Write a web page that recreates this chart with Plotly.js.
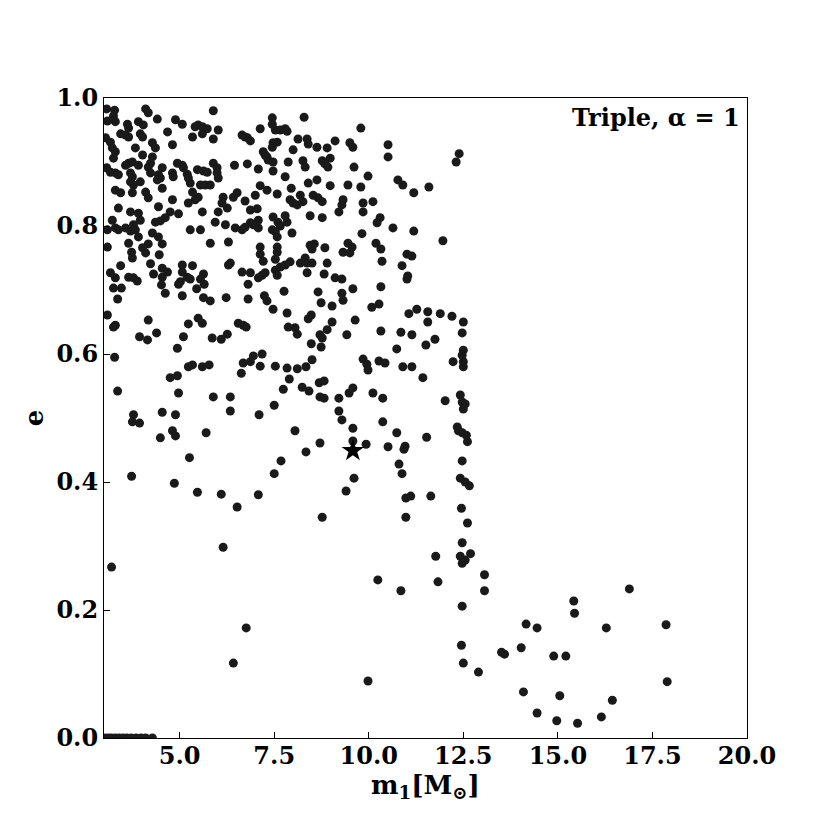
<!DOCTYPE html>
<html>
<head>
<meta charset="utf-8">
<script src="https://cdn.plot.ly/plotly-3.0.1.min.js"></script>
<style>html,body{margin:0;padding:0;background:#fff;}</style>
</head>
<body>
<div id="chart" style="width:830px;height:830px;"></div>
<script>
// primary mass m1 [Msun]
const m1 = [
3.07,3.28,3.25,3.09,3.30,4.10,4.17,4.41,5.89,4.89,5.07,3.91,4.04,3.62,3.65,5.49,5.41,5.60,5.73,6.02,
4.68,3.44,3.57,3.65,3.96,4.02,5.34,5.60,5.89,3.04,3.17,4.28,4.36,4.81,3.22,3.30,3.25,3.83,4.02,4.28,
3.65,3.75,3.57,3.91,4.23,4.17,4.54,4.94,5.07,5.10,5.20,5.47,5.63,5.73,5.89,5.99,5.99,3.07,3.17,3.30,
3.38,3.70,3.75,4.23,4.44,4.49,4.41,4.81,4.83,5.23,5.28,5.55,5.68,5.81,6.02,3.70,3.78,3.96,4.54,3.30,
3.44,3.75,4.10,4.17,5.34,5.49,5.41,6.15,6.12,4.81,3.38,3.70,4.44,4.75,4.97,5.23,5.60,6.02,6.26,3.91,
3.96,4.36,4.49,4.62,3.22,5.94,3.09,3.30,3.38,3.57,3.70,3.78,3.83,4.28,5.28,5.55,6.21,
3.91,4.44,3.09,3.65,4.17,4.54,5.81,6.29,3.73,3.75,4.02,4.10,4.46,3.44,4.23,3.17,3.30,3.65,3.78,3.88,
4.31,4.54,4.68,4.54,5.07,5.34,5.07,5.20,5.28,5.02,4.97,5.63,5.55,5.65,6.29,3.25,3.46,3.36,4.52,4.62,
5.07,5.45,5.63,5.81,6.23,3.09,3.30,3.25,4.17,5.23,5.49,5.60,3.94,4.15,4.39,5.10,4.94,5.86,6.10,6.26,
3.28,5.23,5.34,5.60,5.78,
4.75,4.94,3.36,4.97,5.89,6.34,6.34,3.78,3.75,3.94,4.54,4.89,4.81,4.89,4.49,5.70,5.26,3.73,4.86,5.47,6.10,
6.52,8.77,10.98,12.45,12.61,6.15,3.20,12.47,11.77,12.42,12.69,12.47,12.55,10.24,11.83,10.85,12.47,6.76,12.45,6.42,
12.50,12.90,9.98,
3.03,3.12,3.20,3.30,3.40,3.50,3.60,3.72,3.85,3.98,4.10,4.28,
13.06,13.06,16.89,15.42,15.44,14.16,14.45,16.28,17.86,13.51,13.59,14.03,14.89,15.21,17.89,14.09,15.05,16.44,14.45,14.97,
15.52,16.15,
8.29,7.45,7.45,7.53,7.66,7.79,7.84,7.13,6.65,6.73,6.79,6.87,7.58,7.47,7.45,8.13,8.37,8.40,8.63,8.90,
8.98,9.11,9.50,9.58,8.00,7.21,7.26,7.31,7.34,7.47,6.45,6.79,7.08,7.47,7.87,8.26,8.32,8.77,8.84,8.92,
9.61,7.79,8.63,8.40,8.98,9.45,7.13,7.31,7.95,7.58,6.52,6.42,7.00,6.73,6.87,7.05,7.92,8.00,8.11,8.19,
8.26,8.53,8.66,8.77,9.32,9.29,9.21,8.45,8.77,7.47,7.79,7.60,7.66,7.84,7.08,6.47,6.65,6.73,6.87,6.95,
7.08,7.45,7.53,7.97,
9.79,10.51,10.51,12.39,12.31,9.98,9.79,10.77,10.90,11.19,11.59,9.85,10.11,9.85,10.30,10.22,10.64,11.19,9.82,
7.58,7.13,7.13,7.21,7.58,7.58,7.53,8.45,8.56,8.50,8.84,9.45,9.56,9.32,9.50,6.34,6.65,6.87,7.08,7.18,
7.26,7.53,7.66,7.79,7.92,7.58,8.19,8.32,8.37,8.50,8.37,8.90,8.82,9.11,9.29,9.58,6.81,7.76,8.66,8.74,
9.29,9.32,6.81,7.24,7.31,7.47,7.84,9.03,8.48,8.40,9.03,8.90,8.71,8.77,9.64,6.55,6.68,6.76,7.87,8.05,
8.11,9.42,8.48,8.74,8.50,6.68,6.87,6.95,7.18,7.13,7.53,7.84,8.11,8.34,
6.63,7.90,7.74,8.24,8.42,8.69,8.82,8.71,8.82,9.21,9.48,9.58,7.10,7.50,9.21,9.29,9.58,8.05,9.58,8.71,
8.34,7.68,7.50,9.61,7.08,9.40,
11.96,10.19,10.32,10.35,11.01,11.14,10.88,11.03,11.01,10.32,10.08,10.27,11.06,11.27,11.56,11.56,11.89,12.20,12.50,12.47,
10.32,10.85,11.14,11.75,11.51,10.74,12.50,12.47,9.85,9.95,9.98,10.27,10.43,10.90,11.14,12.23,12.50,12.50,
11.43,10.11,10.37,12.02,12.42,12.47,12.55,12.50,10.37,10.74,11.53,12.34,12.37,12.47,12.58,12.61,9.93,10.51,10.96,10.93,
10.80,10.88,12.47,12.42,12.55,12.66,10.98,11.11,11.64
];
// eccentricity e
const ecc = [
0.983,0.981,0.972,0.964,0.963,0.983,0.977,0.967,0.980,0.966,0.959,0.963,0.958,0.959,0.953,0.958,0.955,0.955,0.952,0.950,
0.947,0.944,0.942,0.939,0.944,0.939,0.939,0.944,0.936,0.938,0.931,0.930,0.922,0.927,0.922,0.916,0.906,0.922,0.911,0.908,
0.898,0.900,0.895,0.895,0.898,0.892,0.891,0.898,0.895,0.891,0.881,0.888,0.886,0.884,0.898,0.891,0.883,0.891,0.884,0.883,
0.880,0.883,0.877,0.883,0.880,0.875,0.872,0.883,0.877,0.875,0.867,0.864,0.864,0.864,0.875,0.869,0.864,0.869,0.859,0.856,
0.852,0.852,0.853,0.844,0.853,0.845,0.841,0.845,0.836,0.841,0.828,0.822,0.830,0.822,0.819,0.836,0.822,0.822,0.828,0.820,
0.809,0.806,0.808,0.813,0.809,0.806,0.794,0.797,0.794,0.797,0.792,0.802,0.794,0.789,0.794,0.794,0.802,
0.783,0.783,0.767,0.773,0.772,0.772,0.773,0.775,0.759,0.750,0.766,0.758,0.755,0.738,0.741,0.727,0.719,0.720,0.719,0.714,
0.725,0.734,0.728,0.720,0.739,0.738,0.728,0.720,0.717,0.713,0.709,0.725,0.717,0.709,0.739,0.703,0.703,0.686,0.708,0.695,
0.691,0.702,0.688,0.683,0.688,0.661,0.645,0.642,0.653,0.647,0.656,0.648,0.627,0.622,0.633,0.627,0.609,0.625,0.623,0.631,
0.595,0.580,0.583,0.580,0.583,
0.563,0.566,0.542,0.539,0.533,0.533,0.511,0.505,0.494,0.492,0.509,0.505,0.480,0.472,0.469,0.477,0.438,0.409,0.398,0.384,0.381,
0.361,0.345,0.345,0.359,0.336,0.298,0.267,0.305,0.284,0.284,0.288,0.273,0.278,0.247,0.244,0.230,0.206,0.172,0.145,0.117,
0.117,0.103,0.089,
0,0,0,0,0,0,0,0,0,0,0,0,
0.255,0.230,0.233,0.214,0.195,0.178,0.172,0.172,0.177,0.134,0.131,0.141,0.128,0.128,0.088,0.072,0.066,0.059,0.039,0.027,
0.023,0.033,
0.970,0.969,0.959,0.950,0.950,0.952,0.948,0.952,0.942,0.939,0.938,0.933,0.931,0.930,0.923,0.936,0.936,0.928,0.923,0.922,
0.906,0.933,0.930,0.923,0.919,0.916,0.911,0.908,0.903,0.900,0.895,0.897,0.889,0.886,0.900,0.902,0.892,0.902,0.897,0.892,
0.892,0.877,0.872,0.867,0.863,0.864,0.863,0.856,0.859,0.850,0.852,0.845,0.848,0.839,0.825,0.827,0.841,0.836,0.833,0.848,
0.838,0.848,0.844,0.838,0.841,0.833,0.822,0.816,0.813,0.814,0.816,0.806,0.800,0.806,0.809,0.797,0.794,0.798,0.805,0.802,
0.797,0.794,0.791,0.789,
0.953,0.927,0.908,0.913,0.900,0.878,0.861,0.872,0.864,0.852,0.861,0.836,0.838,0.822,0.813,0.805,0.797,0.792,0.788,
0.783,0.767,0.756,0.745,0.767,0.759,0.748,0.770,0.772,0.764,0.766,0.773,0.767,0.759,0.758,0.742,0.728,0.727,0.719,0.723,
0.727,0.731,0.736,0.739,0.744,0.723,0.742,0.750,0.742,0.742,0.727,0.742,0.725,0.719,0.717,0.702,0.709,0.698,0.697,0.680,
0.695,0.684,0.686,0.691,0.683,0.670,0.664,0.675,0.661,0.655,0.650,0.638,0.630,0.625,0.653,0.648,0.645,0.642,0.642,0.641,
0.631,0.630,0.616,0.611,0.591,0.586,0.588,0.597,0.600,0.581,0.581,0.578,0.577,0.580,
0.570,0.561,0.545,0.548,0.542,0.555,0.558,0.533,0.531,0.531,0.539,0.547,0.505,0.520,0.511,0.497,0.484,0.480,0.464,0.461,
0.447,0.433,0.413,0.406,0.380,0.386,
0.777,0.773,0.764,0.745,0.756,0.753,0.738,0.722,0.717,0.705,0.673,0.678,0.663,0.670,0.666,0.650,0.663,0.659,0.650,0.633,
0.636,0.634,0.630,0.623,0.614,0.608,0.606,0.598,0.592,0.584,0.575,0.589,0.586,0.580,0.580,0.588,0.588,0.580,
0.563,0.539,0.531,0.527,0.536,0.525,0.522,0.514,0.494,0.477,0.470,0.486,0.480,0.477,0.473,0.463,0.459,0.455,0.456,0.451,
0.428,0.413,0.433,0.406,0.400,0.394,0.375,0.378,0.378
];
// highlighted system (star)
const starM1 = [9.58];
const starE = [0.449];

const xTickVals = [5, 7.5, 10, 12.5, 15, 17.5, 20];
const xTickText = ["5.0", "7.5", "10.0", "12.5", "15.0", "17.5", "20.0"];
const yTickVals = [0, 0.2, 0.4, 0.6, 0.8, 1.0];
const yTickText = ["0.0", "0.2", "0.4", "0.6", "0.8", "1.0"];

const serif = "DejaVu Serif, serif";

const traces = [
  {
    x: m1, y: ecc, type: "scatter", mode: "markers",
    marker: {size: 9, color: "#1a1a1a", line: {width: 0}},
    cliponaxis: true, hoverinfo: "skip"
  },
  {
    x: starM1, y: starE, type: "scatter", mode: "markers",
    marker: {size: 17, color: "#000000", symbol: "star", line: {width: 0}},
    cliponaxis: false, hoverinfo: "skip"
  }
];

const layout = {
  width: 830, height: 830,
  margin: {l: 103.5, r: 82.5, t: 98, b: 92, pad: 0},
  paper_bgcolor: "#ffffff", plot_bgcolor: "#ffffff",
  showlegend: false,
  font: {family: serif, color: "#000", size: 24, weight: "bold"},
  xaxis: {
    range: [3, 20], tickmode: "array", tickvals: xTickVals, ticktext: xTickText,
    ticks: "inside", ticklen: 6, tickwidth: 1, tickcolor: "#000",
    showline: true, linecolor: "#000", linewidth: 1, mirror: true,
    showgrid: false, zeroline: false, ticklabelstandoff: -4,
    tickfont: {family: serif, size: 24, color: "#000", weight: "bold"},
    title: {text: "m<sub>1</sub>[M<sub>⊙</sub>]", font: {family: serif, size: 26, color: "#000", weight: "bold"}, standoff: 2}
  },
  yaxis: {
    range: [0, 1], tickmode: "array", tickvals: yTickVals, ticktext: yTickText,
    ticks: "inside", ticklen: 6, tickwidth: 1, tickcolor: "#000",
    showline: true, linecolor: "#000", linewidth: 1, mirror: true,
    showgrid: false, zeroline: false,
    tickfont: {family: serif, size: 24, color: "#000", weight: "bold"},
    title: {text: "e", font: {family: serif, size: 26, color: "#000", weight: "bold"}, standoff: 5}
  },
  annotations: [{
    xref: "paper", yref: "paper", x: 0.992, y: 0.995, xanchor: "right", yanchor: "top",
    text: "Triple, α = 1", showarrow: false,
    font: {family: serif, size: 24, color: "#000", weight: "bold"}
  }]
};

Plotly.newPlot("chart", traces, layout, {displayModeBar: false, staticPlot: true});
</script>
</body>
</html>
